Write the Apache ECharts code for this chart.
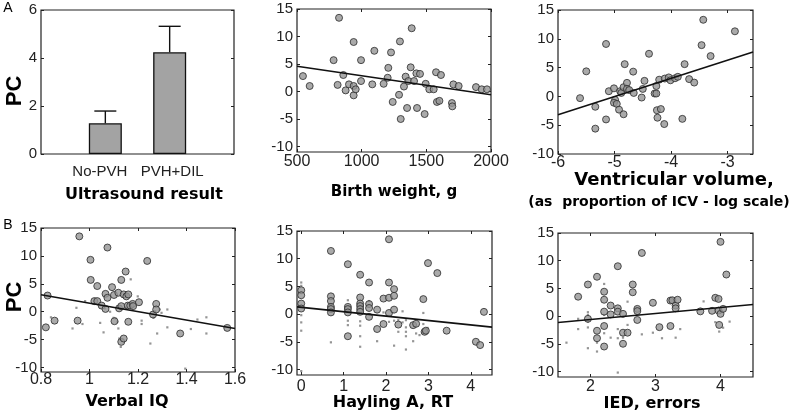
<!DOCTYPE html>
<html><head><meta charset="utf-8">
<script src="https://cdn.jsdelivr.net/npm/echarts@6/dist/echarts.min.js"></script>
<style>html,body{margin:0;padding:0;background:#fff}#c{width:790px;height:414px}</style>
</head><body><div id="c"></div>
<script>
// ---------- DATA ----------
const barCats = ['No-PVH', 'PVH+DIL'];
const barVals = [1.28, 4.24];
const barErrTop = [1.79, 5.32];
const barTicks = [0, 2, 4, 6];

const pcTicks = [-10, -5, 0, 5, 10, 15];

const bwTicks = [500, 1000, 1500, 2000];
const bwPts = [[546,2.8],[598,1.0],[783,5.7],[825,13.4],[814,1.2],[858,3.0],[876,0.2],[902,1.3],[938,9.0],[938,1.0],[938,-0.7],[954,0.4],[995,5.7],[995,1.9],[1082,1.3],[1098,7.4],[1170,1.4],[1201,2.5],[1206,4.3],[1227,7.1],[1240,-1.9],[1289,-0.6],[1296,9.1],[1302,-5.0],[1327,0.9],[1340,2.7],[1351,-3.0],[1361,1.9],[1379,4.4],[1387,11.5],[1405,1.9],[1423,3.3],[1428,-3.0],[1451,3.2],[1487,-4.1],[1495,1.4],[1523,0.4],[1557,0.4],[1575,3.5],[1582,-1.9],[1601,-1.7],[1613,3.0],[1698,-2.1],[1701,-2.7],[1709,1.3],[1750,1.0],[1884,0.8],[1928,0.4],[1969,0.4]];
const bwFit = [[500,4.6],[2000,-0.6]];

const vvTicks = [-6, -5, -4, -3];
const vvPts = [[-5.61,-0.3],[-5.50,4.35],[-5.34,-1.8],[-5.34,-5.6],[-5.15,9.1],[-5.15,-4.0],[-5.10,0.9],[-5.01,1.4],[-4.99,-0.6],[-5.01,-1.1],[-4.96,-1.3],[-4.92,-2.3],[-4.90,0.9],[-4.88,0.6],[-4.84,-3.1],[-4.82,5.6],[-4.84,1.6],[-4.78,2.35],[-4.78,1.3],[-4.74,1.1],[-4.67,4.3],[-4.66,0.6],[-4.52,-0.2],[-4.50,1.3],[-4.47,2.7],[-4.39,7.4],[-4.29,0.5],[-4.26,0.5],[-4.26,1.8],[-4.25,-2.4],[-4.24,-3.7],[-4.21,2.9],[-4.18,-2.2],[-4.12,-4.8],[-4.11,3.1],[-4.04,3.3],[-4.01,2.8],[-3.93,3.15],[-3.88,3.4],[-3.80,-3.9],[-3.76,5.6],[-3.68,3.0],[-3.59,2.4],[-3.46,8.9],[-3.43,13.3],[-3.30,7.0],[-2.87,11.3]];
const vvFit = [[-6,-3.2],[-2.55,7.7]];

const viqTicks = [0.8, 1, 1.2, 1.4, 1.6];
const viqPts = [[0.82,-2.8],[0.827,2.9],[0.856,-1.6],[0.958,13.5],[0.951,-1.6],[1.004,9.3],[1.005,5.7],[1.02,1.9],[1.032,1.9],[1.032,4.6],[1.05,1.1],[1.066,3.2],[1.066,0.5],[1.074,2.5],[1.074,11.5],[1.093,4.4],[1.101,3.0],[1.103,-1.7],[1.119,3.4],[1.122,0.6],[1.131,5.7],[1.131,1.0],[1.131,-5.4],[1.141,-4.8],[1.141,3.1],[1.149,7.2],[1.152,2.75],[1.16,3.1],[1.16,-1.8],[1.158,1.1],[1.168,1.1],[1.178,1.4],[1.18,1.0],[1.204,1.7],[1.238,9.1],[1.262,-0.5],[1.275,1.4],[1.275,0.4],[1.374,-3.9],[1.568,-2.9]];
const viqDots = [[0.841,-1.0],[0.93,-3.0],[0.946,0.7],[0.971,-2.2],[0.982,1.9],[1.044,-2.0],[1.058,-3.7],[1.064,0.6],[1.085,0],[1.099,-1.1],[1.107,-1.2],[1.115,-1.8],[1.119,-3.0],[1.123,-4.8],[1.129,-6.3],[1.151,0.7],[1.17,5.8],[1.199,2.75],[1.215,-1.6],[1.215,-2.2],[1.251,-5.7],[1.264,-1.1],[1.271,0.1],[1.279,-3.9],[1.29,0.4],[1.297,-0.2],[1.321,0.4],[1.321,-2.8],[1.395,-10.2],[1.418,-3.1],[1.445,-1.4],[1.482,-1.0],[1.482,-3.9]];
const viqFit = [[0.8,3.05],[1.6,-3.0]];

const hayTicks = [0, 1, 2, 3, 4];
const hayPts = [[0,4.3],[0,3.4],[0,1.9],[0,1.0],[0.70,11.4],[0.70,3.2],[0.70,2.35],[0.70,1.3],[0.70,0.9],[0.70,0.3],[1.10,9.0],[1.10,1.3],[1.10,0.9],[1.10,0.3],[1.10,-4.0],[1.39,7.1],[1.39,3.0],[1.39,1.9],[1.39,1.45],[1.39,0.9],[1.39,0.4],[1.60,5.7],[1.60,1.8],[1.60,1.1],[1.60,-0.5],[1.79,0.8],[1.79,-2.7],[1.94,2.8],[1.94,-1.8],[2.07,5.7],[2.07,13.5],[2.07,2.95],[2.07,0.2],[2.19,4.5],[2.19,3.3],[2.19,0.8],[2.29,-1.9],[2.64,-2.0],[2.71,-1.75],[2.88,2.7],[2.91,-3.2],[2.94,-3.0],[2.99,9.2],[3.21,7.4],[3.43,-3.0],[4.12,-5.0],[4.22,-5.6],[4.31,0.4]];
const hayDots = [[0,5.7],[0,5.1],[0,-0.2],[0,-1.5],[0,-3.0],[0,-10.3],[0.70,-5.1],[1.10,2.5],[1.10,-1.2],[1.10,-2.0],[1.39,-1.3],[1.39,-2.1],[1.39,-4.0],[1.39,-5.9],[1.60,2.35],[1.79,-4.9],[1.94,0.3],[2.07,-1.4],[2.19,-1.2],[2.19,-5.7],[2.29,-1.1],[2.29,-3.2],[2.39,0.5],[2.39,-1.5],[2.47,-1.1],[2.47,-2.4],[2.47,-3.2],[2.47,-4.0],[2.47,-6.4],[2.64,-4.9],[2.71,-3.5],[2.79,-3.8],[2.85,-3.4],[2.88,0.2],[2.88,-1.8],[2.98,-2.5]];
const hayFit = [[-0.1,1.3],[4.5,-2.35]];

const iedTicks = [2, 3, 4];
const iedPts = [[1.81,3.5],[1.96,5.7],[1.96,-0.5],[2.10,7.1],[2.10,-2.65],[2.10,-4.0],[2.21,4.4],[2.21,2.95],[2.21,0.8],[2.21,-1.8],[2.21,-5.5],[2.31,1.9],[2.31,0.3],[2.42,9.0],[2.42,1.4],[2.42,0.8],[2.50,0.4],[2.50,-3.0],[2.50,-5.0],[2.57,-3.0],[2.65,5.7],[2.65,4.3],[2.72,1.3],[2.72,0.9],[2.72,-0.7],[2.79,11.4],[2.96,2.4],[3.06,-2.0],[3.23,2.8],[3.23,-1.8],[3.26,2.85],[3.31,1.9],[3.31,1.4],[3.34,2.95],[3.69,0.85],[3.87,0.95],[3.92,3.3],[3.97,3.1],[3.97,1.0],[3.98,-1.6],[4.00,13.4],[4.00,0.4],[4.04,1.3],[4.09,7.5]];
const iedDots = [[1.63,-4.8],[1.81,-0.5],[1.81,-2.35],[1.96,0.7],[1.96,0.2],[1.96,-1.0],[1.96,-2.05],[1.96,-5.8],[2.10,-4.8],[2.10,-6.4],[2.21,5.8],[2.21,0.2],[2.21,-3.1],[2.31,-3.9],[2.42,-2.35],[2.42,-4.0],[2.42,-10.2],[2.50,-3.9],[2.57,2.6],[2.57,-1.6],[2.79,-3.3],[2.96,-3.0],[3.10,-4.0],[3.31,-3.9],[3.38,-2.35],[3.74,2.65],[3.92,-1.1],[3.98,-2.8],[4.04,-2.1],[4.14,-1.0]];
const iedFit = [[1.5,-1.15],[4.5,2.1]];

// ---------- LAYOUT ----------
const panels = [
  {grid:{left:41,top:10,width:193,height:144}, x:[0,3], xt:[1,2], y:[0,6], yt:barTicks, xm:10, xf:15},
  {grid:{left:297,top:9,width:194,height:143}, x:[500,2000], xt:bwTicks, y:[-11,15], yt:pcTicks, xm:2, xf:16},
  {grid:{left:558,top:10,width:195,height:144}, x:[-6,-2.55], xt:vvTicks, y:[-10,15], yt:pcTicks, xm:1, xf:16},
  {grid:{left:41,top:228,width:194,height:144}, x:[0.8,1.6], xt:viqTicks, y:[-10.8,15], yt:pcTicks, xm:0, xf:16},
  {grid:{left:297,top:231,width:195,height:144}, x:[-0.1,4.5], xt:hayTicks, y:[-11,15], yt:pcTicks, xm:4, xf:16},
  {grid:{left:558,top:233,width:195,height:144}, x:[1.5,4.5], xt:iedTicks, y:[-11,15], yt:pcTicks, xm:2, xf:16}
];

const FONT = 'Liberation Sans';
const TITLE_FONT = 'DejaVu Sans';
const fmt = v => String(Math.round(v * 1000) / 1000);
const barFmt = v => (Math.round(v) === 1 ? '{l|' : '{r|') + barCats[Math.round(v)-1] + '}';
const grids = [], xAxes = [], yAxes = [];
panels.forEach((p, i) => {
  grids.push(Object.assign({show:true, borderColor:'#222', borderWidth:1.2, backgroundColor:'transparent'}, p.grid));
  const tick = {show: !(i===0), inside:true, length:3, lineStyle:{color:'#222'}, customValues:p.xt};
  const lbl = {customValues:p.xt, margin:p.xm, color:'#222', fontSize:p.xf, fontFamily:FONT, hideOverlap:false,
      formatter: i===0 ? barFmt : fmt};
  if (i === 0) lbl.rich = {
    l:{fontSize:15, fontFamily:FONT, color:'#222', padding:[0,11,0,0]},
    r:{fontSize:15, fontFamily:FONT, color:'#222', padding:[0,0,0,5]}
  };
  xAxes.push({type:'value', gridIndex:i, min:p.x[0], max:p.x[1], position:'bottom',
    axisLine:{show:false, onZero:false}, splitLine:{show:false},
    axisTick:tick, axisLabel:lbl});
  xAxes.push({type:'value', gridIndex:i, min:p.x[0], max:p.x[1], position:'top',
    axisLine:{show:false, onZero:false}, splitLine:{show:false},
    axisTick:Object.assign({}, tick), axisLabel:{show:false}});
  const ytick = {show:true, inside:true, length:3, lineStyle:{color:'#222'}, customValues:p.yt};
  yAxes.push({type:'value', gridIndex:i, min:p.y[0], max:p.y[1], position:'left',
    axisLine:{show:false, onZero:false}, splitLine:{show:false}, axisTick:ytick,
    axisLabel:{customValues:p.yt, margin:4, color:'#222', fontSize:15, fontFamily:FONT, formatter:fmt}});
  yAxes.push({type:'value', gridIndex:i, min:p.y[0], max:p.y[1], position:'right',
    axisLine:{show:false, onZero:false}, splitLine:{show:false}, axisTick:Object.assign({}, ytick),
    axisLabel:{show:false}});
});

const circ = (i, data) => ({type:'scatter', xAxisIndex:2*i, yAxisIndex:2*i, data, symbolSize:7, z:4,
  itemStyle:{color:'#959595', borderColor:'#2a2a2a', borderWidth:1}});
const dots = (i, data) => ({type:'scatter', xAxisIndex:2*i, yAxisIndex:2*i, data, symbol:'rect', symbolSize:2.2, z:3,
  itemStyle:{color:'#7a7a7a'}});
const fit = (i, data) => ({type:'line', xAxisIndex:2*i, yAxisIndex:2*i, data, symbol:'none', z:5,
  lineStyle:{color:'#111', width:1.6}});

const series = [
  {type:'bar', xAxisIndex:0, yAxisIndex:0, data: barVals.map((v,k)=>[k+1, v]), barWidth:33,
    itemStyle:{color:'#a3a3a3', borderColor:'#111', borderWidth:1.3}},
  {type:'custom', xAxisIndex:0, yAxisIndex:0, z:5,
    data: barVals.map((v,k)=>[k+1, v, barErrTop[k]]),
    renderItem:(params, api) => {
      const b = api.coord([api.value(0), api.value(1)]);
      const t = api.coord([api.value(0), api.value(2)]);
      const st = {stroke:'#111', lineWidth:1.4};
      return {type:'group', children:[
        {type:'line', shape:{x1:b[0], y1:b[1], x2:t[0], y2:t[1]}, style:st},
        {type:'line', shape:{x1:t[0]-11, y1:t[1], x2:t[0]+11, y2:t[1]}, style:st}
      ]};
    }},
  circ(1, bwPts), fit(1, bwFit),
  circ(2, vvPts), fit(2, vvFit),
  dots(3, viqDots), circ(3, viqPts), fit(3, viqFit),
  dots(4, hayDots), circ(4, hayPts), fit(4, hayFit),
  dots(5, iedDots), circ(5, iedPts), fit(5, iedFit)
];

const txt = (x, y, s, size, opts={}) => Object.assign({type:'text', x, y,
  style:{text:s, fontSize:size, fontWeight:'bold', fontFamily:TITLE_FONT, fill:'#000', textAlign:'center', textVerticalAlign:'middle'}}, opts);

const graphic = [
  txt(144, 195, 'Ultrasound result', 16),
  txt(394, 192, 'Birth weight, g', 15),
  txt(674, 180, 'Ventricular volume,', 18),
  txt(659, 202, '(as  proportion of ICV - log scale)', 14),
  txt(127, 402, 'Verbal IQ', 16),
  txt(393, 403, 'Hayling A, RT', 16),
  txt(652, 404, 'IED, errors', 16),
  {type:'text', x:15, y:91, rotation:Math.PI/2, style:{text:'PC', fontSize:22, fontWeight:'bold', fontFamily:'Liberation Sans', fill:'#000', textAlign:'center', textVerticalAlign:'middle'}},
  {type:'text', x:15, y:297, rotation:Math.PI/2, style:{text:'PC', fontSize:22, fontWeight:'bold', fontFamily:'Liberation Sans', fill:'#000', textAlign:'center', textVerticalAlign:'middle'}},
  {type:'text', x:8, y:8, style:{text:'A', fontSize:14, fontFamily:FONT, fill:'#000', textAlign:'center', textVerticalAlign:'middle'}},
  {type:'text', x:8, y:225, style:{text:'B', fontSize:14, fontFamily:FONT, fill:'#000', textAlign:'center', textVerticalAlign:'middle'}}
];

const chart = echarts.init(document.getElementById('c'), null, {renderer:'canvas'});
chart.setOption({animation:false, grid:grids, xAxis:xAxes, yAxis:yAxes, series, graphic});
</script></body></html>
